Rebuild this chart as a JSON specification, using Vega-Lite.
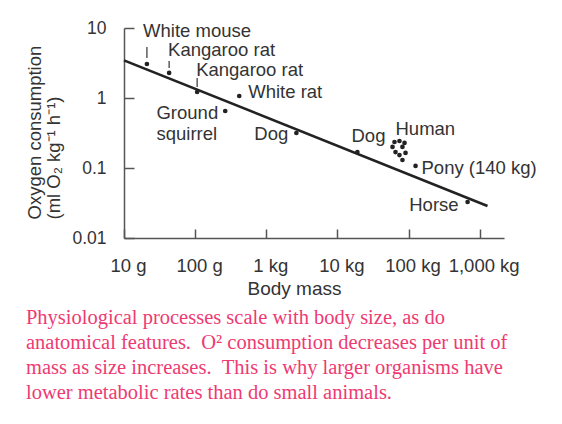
{
  "$schema": "https://vega.github.io/schema/vega-lite/v6.json",
  "width": 380,
  "height": 210,
  "autosize": "none",
  "padding": {"left": 124, "top": 28, "right": 58, "bottom": 186},
  "background": "white",
  "config": {"view": {"stroke": null}, "font": "Liberation Sans"},
  "title": {
    "text": [
      "Physiological processes scale with body size, as do",
      "anatomical features. \u00a0O² consumption decreases per unit of",
      "mass as size increases. \u00a0This is why larger organisms have",
      "lower metabolic rates than do small animals."
    ],
    "orient": "bottom",
    "anchor": "start",
    "frame": "bounds",
    "font": "Liberation Serif",
    "fontSize": 20.5,
    "fontWeight": "normal",
    "color": "#ee3a72",
    "lineHeight": 25,
    "offset": 9
  },
  "datasets": {
    "fit": [
      {"m": 0.01, "o": 3.45},
      {"m": 1290, "o": 0.0287}
    ],
    "pts": [
      {"name": "White mouse", "m": 0.021, "o": 3.06},
      {"name": "Kangaroo rat", "m": 0.0431, "o": 2.28},
      {"name": "Kangaroo rat", "m": 0.1067, "o": 1.218},
      {"name": "White rat", "m": 0.417, "o": 1.068},
      {"name": "Ground squirrel", "m": 0.265, "o": 0.652},
      {"name": "Dog", "m": 2.65, "o": 0.316},
      {"name": "Dog", "m": 19.1, "o": 0.169},
      {"name": "Human", "m": 63.5, "o": 0.235},
      {"name": "Human", "m": 74.6, "o": 0.243},
      {"name": "Human", "m": 87.9, "o": 0.228},
      {"name": "Human", "m": 59.6, "o": 0.2},
      {"name": "Human", "m": 82.2, "o": 0.2},
      {"name": "Human", "m": 65.6, "o": 0.169},
      {"name": "Human", "m": 90.8, "o": 0.164},
      {"name": "Human", "m": 74.6, "o": 0.153},
      {"name": "Human", "m": 82.2, "o": 0.13},
      {"name": "Pony", "m": 125.6, "o": 0.107},
      {"name": "Horse", "m": 677, "o": 0.0327}
    ],
    "leaders": [
      {"m": 0.021, "o": 5.35, "o2": 3.73},
      {"m": 0.0431, "o": 3.38, "o2": 2.68},
      {"m": 0.1067, "o": 1.93, "o2": 1.436}
    ],
    "labL": [
      {"label": "White mouse", "m": 0.01853, "o": 9.0},
      {"label": "Kangaroo rat", "m": 0.0417, "o": 4.8},
      {"label": "Kangaroo rat", "m": 0.1033, "o": 2.48},
      {"label": "White rat", "m": 0.558, "o": 1.218},
      {"label": "Human", "m": 65.6, "o": 0.3606},
      {"label": "Pony (140 kg)", "m": 152.4, "o": 0.1}
    ],
    "labR": [
      {"label": "Ground", "m": 0.211, "o": 0.61},
      {"label": "squirrel", "m": 0.204, "o": 0.306},
      {"label": "Dog", "m": 2.04, "o": 0.306},
      {"label": "Dog", "m": 47.4, "o": 0.2865},
      {"label": "Horse", "m": 506, "o": 0.0296}
    ]
  },
  "encoding": {
    "x": {
      "field": "m",
      "type": "quantitative",
      "scale": {"type": "log", "domain": [0.01, 2200], "nice": false},
      "axis": {
        "values": [0.01, 0.1, 1, 10, 100, 1000],
        "labelExpr": "datum.value < 1 ? format(round(datum.value * 1000), 'd') + ' g' : format(datum.value, ',') + ' kg'",
        "grid": false,
        "tickSize": -9,
        "tickWidth": 1.5,
        "tickColor": "#555",
        "domainColor": "#555",
        "domainWidth": 1.5,
        "labelFont": "Liberation Sans",
        "labelFontSize": 18.5,
        "labelColor": "#333",
        "labelPadding": 27,
        "labelFlush": false,
        "labelOffset": 4,
        "title": "Body mass",
        "titleFont": "Liberation Sans",
        "titleFontSize": 19,
        "titleFontWeight": "normal",
        "titleColor": "#333",
        "titleX": 170,
        "titlePadding": 5
      }
    },
    "y": {
      "field": "o",
      "type": "quantitative",
      "scale": {"type": "log", "domain": [0.01, 10], "nice": false},
      "axis": {
        "values": [0.01, 0.1, 1, 10],
        "format": "~g",
        "grid": false,
        "tickSize": -10,
        "tickWidth": 1.5,
        "tickColor": "#555",
        "domainColor": "#555",
        "domainWidth": 1.5,
        "labelFont": "Liberation Sans",
        "labelFontSize": 17.5,
        "labelColor": "#333",
        "labelPadding": 28,
        "labelFlush": false,
        "title": ["Oxygen consumption", "(ml O₂ kg⁻¹  h⁻¹)"],
        "titleFont": "Liberation Sans",
        "titleFontSize": 18.5,
        "titleFontWeight": "normal",
        "titleColor": "#333",
        "titleLineHeight": 19,
        "titleAnchor": "start",
        "titleY": 191,
        "titlePadding": 8
      }
    }
  },
  "layer": [
    {
      "data": {"name": "fit"},
      "mark": {"type": "line", "color": "#222", "strokeWidth": 2.6}
    },
    {
      "data": {"name": "leaders"},
      "mark": {"type": "rule", "color": "#333", "strokeWidth": 1.2},
      "encoding": {"y2": {"field": "o2"}}
    },
    {
      "data": {"name": "pts"},
      "mark": {"type": "circle", "color": "#222", "size": 22, "opacity": 1}
    },
    {
      "data": {"name": "labL"},
      "mark": {"type": "text", "align": "left", "baseline": "middle", "font": "Liberation Sans", "fontSize": 18.5, "color": "#333"},
      "encoding": {"text": {"field": "label"}}
    },
    {
      "data": {"name": "labR"},
      "mark": {"type": "text", "align": "right", "baseline": "middle", "font": "Liberation Sans", "fontSize": 18.5, "color": "#333"},
      "encoding": {"text": {"field": "label"}}
    }
  ]
}
